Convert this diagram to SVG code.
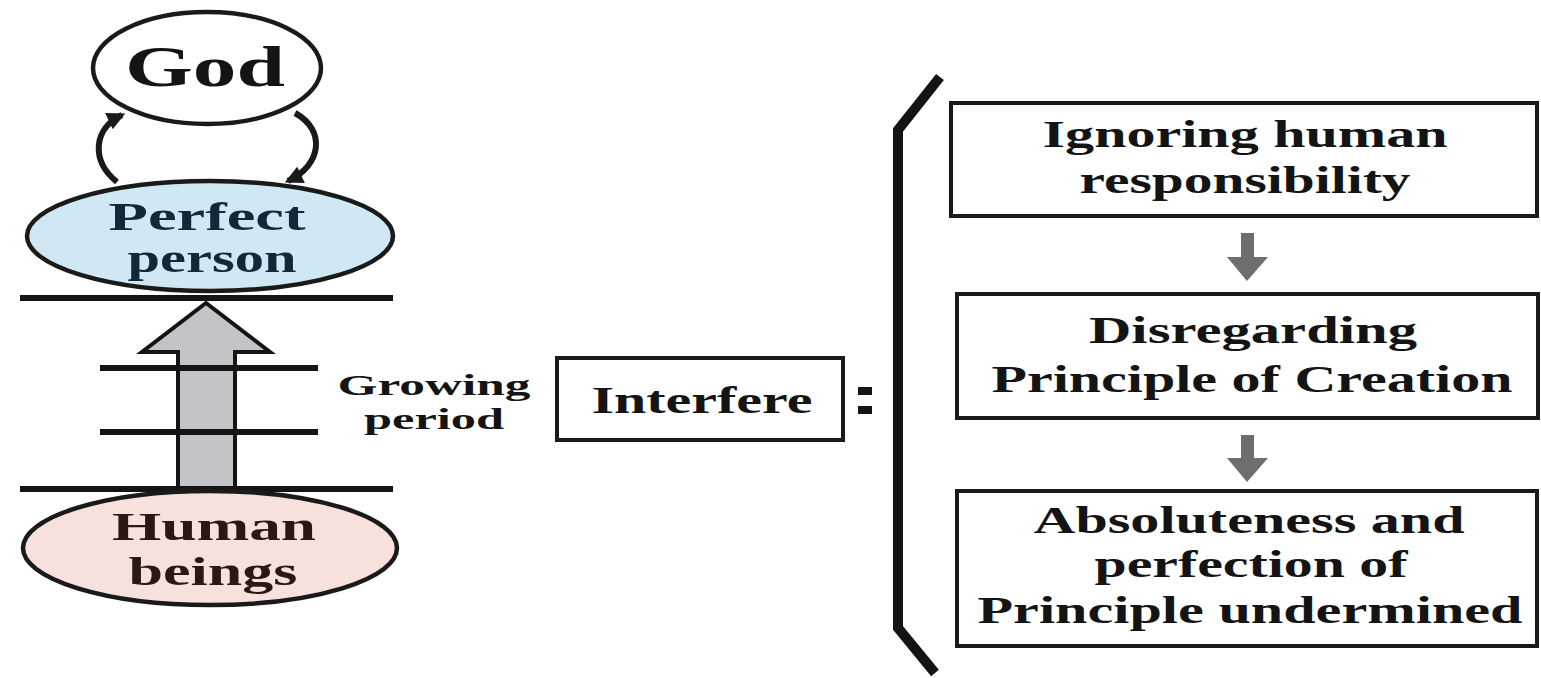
<svg xmlns="http://www.w3.org/2000/svg" width="1541" height="678" viewBox="0 0 1541 678">
<style>
  .t { font-family: "Liberation Serif", "Times New Roman", serif; font-weight: bold; fill: #141414; }
  .box { fill: #ffffff; stroke: #1a1a1a; stroke-width: 4; }
  .ell { stroke: #1a1a1a; stroke-width: 4.5; }
  .bar { stroke: #141414; stroke-width: 6; }
  .curve { fill: none; stroke: #1a1a1a; stroke-width: 6; }
  .down { fill: #6e6e6e; }
</style>
<defs>
  <marker id="ah" viewBox="0 0 10 10" refX="8" refY="5" markerWidth="20" markerHeight="18" markerUnits="userSpaceOnUse" orient="auto">
    <path d="M0,0 L10,5 L0,10 Z" fill="#1a1a1a"/>
  </marker>
</defs>
<rect width="1541" height="678" fill="#ffffff"/>

<g id="growth-arrow">
  <polygon points="178,488 178,352 142,352 206,303 270,352 235,352 235,488" fill="#c3c3c8" stroke="#141414" stroke-width="4" stroke-linejoin="miter"/>
</g>

<g id="levels">
  <line class="bar" x1="20" y1="298" x2="393" y2="298"/>
  <line class="bar" x1="100" y1="368" x2="318" y2="368" stroke-width="5"/>
  <line class="bar" x1="100" y1="432" x2="318" y2="432" stroke-width="5"/>
  <line class="bar" x1="20" y1="489" x2="393" y2="489"/>
</g>

<g id="god">
  <ellipse class="ell" cx="207" cy="68" rx="114" ry="56" fill="#ffffff"/>
  <text class="t" x="205" y="86" font-size="57" text-anchor="middle" textLength="160" lengthAdjust="spacingAndGlyphs">God</text>
</g>

<g id="perfect-person">
  <ellipse class="ell" cx="210" cy="236" rx="183" ry="55" fill="#cfe8f4"/>
  <text class="t" x="207" y="230" font-size="41" fill="#10283a" style="fill:#10283a" text-anchor="middle" textLength="197" lengthAdjust="spacingAndGlyphs">Perfect</text>
  <text class="t" x="212" y="272" font-size="41" style="fill:#10283a" text-anchor="middle" textLength="169" lengthAdjust="spacingAndGlyphs">person</text>
</g>

<g id="human-beings">
  <ellipse class="ell" cx="210" cy="548" rx="187" ry="57" fill="#f7e1dc"/>
  <text class="t" x="214" y="540" font-size="41" style="fill:#2a1812" text-anchor="middle" textLength="204" lengthAdjust="spacingAndGlyphs">Human</text>
  <text class="t" x="213" y="585" font-size="41" style="fill:#2a1812" text-anchor="middle" textLength="169" lengthAdjust="spacingAndGlyphs">beings</text>
</g>

<g id="growing-period">
  <text class="t" x="434" y="395" font-size="30" text-anchor="middle" textLength="193" lengthAdjust="spacingAndGlyphs">Growing</text>
  <text class="t" x="434" y="429" font-size="30" text-anchor="middle" textLength="140" lengthAdjust="spacingAndGlyphs">period</text>
</g>

<g id="interfere">
  <rect class="box" x="557" y="358" width="286" height="82"/>
  <text class="t" x="702" y="413" font-size="38" text-anchor="middle" textLength="221" lengthAdjust="spacingAndGlyphs">Interfere</text>
  <rect x="858" y="387" width="14" height="8" fill="#141414"/>
  <rect x="858" y="406" width="14" height="8" fill="#141414"/>
</g>

<g id="bracket">
  <polyline points="940,77 898,130 898,628 935,673" fill="none" stroke="#141414" stroke-width="10" stroke-linejoin="miter"/>
</g>

<g id="box-ignoring">
  <rect class="box" x="951" y="103" width="586" height="113"/>
  <text class="t" x="1245" y="147" font-size="37" text-anchor="middle" textLength="405" lengthAdjust="spacingAndGlyphs">Ignoring human</text>
  <text class="t" x="1245" y="193" font-size="37" text-anchor="middle" textLength="331" lengthAdjust="spacingAndGlyphs">responsibility</text>
</g>

<g id="box-disregarding">
  <rect class="box" x="957" y="294" width="581" height="124"/>
  <text class="t" x="1253" y="343" font-size="37" text-anchor="middle" textLength="328" lengthAdjust="spacingAndGlyphs">Disregarding</text>
  <text class="t" x="1252" y="392" font-size="37" text-anchor="middle" textLength="521" lengthAdjust="spacingAndGlyphs">Principle of Creation</text>
</g>

<g id="box-absoluteness">
  <rect class="box" x="957" y="491" width="580" height="155"/>
  <text class="t" x="1249" y="533" font-size="37" text-anchor="middle" textLength="431" lengthAdjust="spacingAndGlyphs">Absoluteness and</text>
  <text class="t" x="1251" y="577" font-size="37" text-anchor="middle" textLength="313" lengthAdjust="spacingAndGlyphs">perfection of</text>
  <text class="t" x="1250" y="623" font-size="37" text-anchor="middle" textLength="545" lengthAdjust="spacingAndGlyphs">Principle undermined</text>
</g>

<g id="connectors">
  <path class="curve" d="M117,182 C90,160 94,128 122,115" marker-end="url(#ah)"/>
  <path class="curve" d="M295,113 C326,130 322,165 288,181" marker-end="url(#ah)"/>
  <polygon class="down" points="1241,233 1254,233 1254,257 1268,257 1247,281 1227,257 1241,257"/>
  <polygon class="down" points="1241,435 1254,435 1254,458 1268,458 1247,482 1227,458 1241,458"/>
</g>
</svg>
